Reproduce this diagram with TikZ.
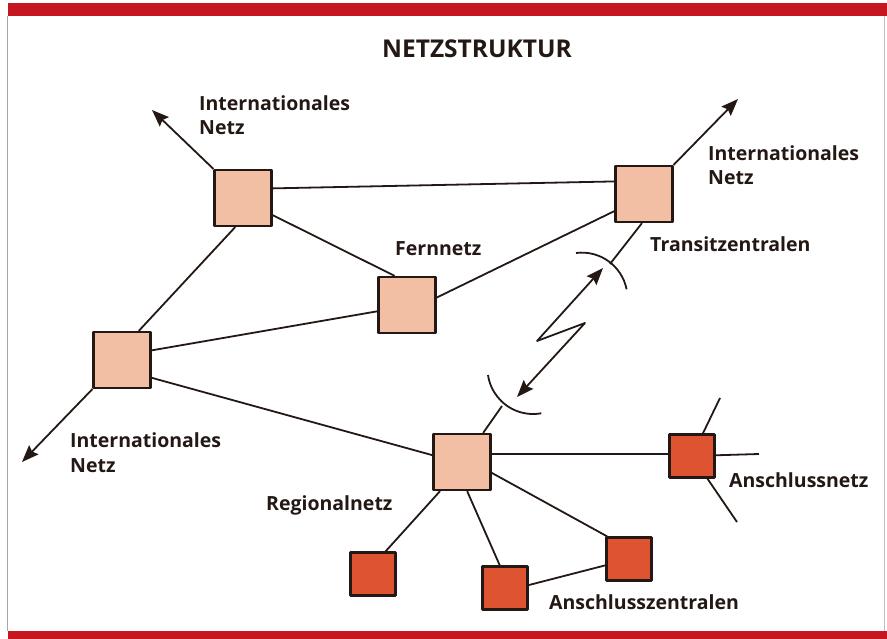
\documentclass[tikz,border=0pt]{standalone}
\usepackage{fontspec}
\setmainfont{Open Sans}
\usetikzlibrary{arrows.meta}
\definecolor{barred}{RGB}{198,22,32}
\definecolor{boxlight}{RGB}{242,190,164}
\definecolor{boxdark}{RGB}{222,84,48}
\definecolor{edgeline}{RGB}{35,24,20}
\newcommand{\lblfont}{\fontsize{19.5}{24.5}\selectfont\bfseries}

\begin{document}
\begin{tikzpicture}[x=1pt, y=-1pt, line join=round,
    >={Stealth[length=17pt, width=13pt, inset=2.5pt]},
    light/.style={shape=rectangle, draw=edgeline, line width=2.2pt, fill=boxlight, minimum width=57pt, minimum height=56pt},
    dark/.style={shape=rectangle, draw=edgeline, line width=2.2pt, fill=boxdark, minimum width=45pt, minimum height=43pt},
    lbl/.style={inner sep=0pt, anchor=base west, align=left, font=\lblfont, text=edgeline},
    link/.style={draw=edgeline, line width=1.8pt}]
    \useasboundingbox (0,0) rectangle (887,639);
    \fill[barred] (8,3) rectangle (887,16);
    \fill[barred] (8,631) rectangle (887,639);
    \draw[black!35, line width=0.6pt] (7,16) -- (7,631);
    \draw[black!25, line width=0.6pt] (884,16) -- (884,631);

    \node (title) at (477,58) [inner sep=0pt, anchor=base, font=\fontsize{24.5}{28}\selectfont\bfseries, text=edgeline] {NETZSTRUKTUR};

    \node (na) at (243,198) [light] {};
    \node (nb) at (644,194) [light] {};
    \node (nc) at (407,305) [light] {};
    \node (nd) at (122,360) [light] {};
    \node (ne) at (462,462) [light] {};
    \node (nf) at (692,456) [dark] {};
    \node (ng) at (629,559) [dark] {};
    \node (nh) at (505,588) [dark] {};
    \node (ni) at (373,574) [dark] {};

    \coordinate (fa) at (720,398);
    \coordinate (fb) at (759,454);
    \coordinate (fc) at (737,522);
    \coordinate (tup) at (610,264);
    \coordinate (tlo) at (502,406);
    \coordinate (ia) at (152,110);
    \coordinate (ib) at (738,99);
    \coordinate (id) at (22,462);

    \draw[link] (na.18) -- (nb.157);
    \draw[link] (na.-30) -- (nc.113);
    \draw[link] (nb.210) -- (nc.14);
    \draw[link] (na.-105) -- (nd.60);
    \draw[link] (nc.192) -- (nd.18);
    \draw[link] (nd.-31) -- (ne.167);
    \draw[link] (ne.15) -- (nf.175);
    \draw[link] (ne.233) -- (ni.61);
    \draw[link] (ne.280) -- (nh.103);
    \draw[link] (ne.-20) -- (ng.134);
    \draw[link] (nh.7) -- (ng.195);
    \draw[link] (nf) -- (fa);
    \draw[link] (nf) -- (fb);
    \draw[link] (nf) -- (fc);
    \draw[link] (nb.266) -- (tup);
    \draw[link] (ne.54) -- (tlo);

    \draw[link, ->] (na.north west) -- (ia);
    \draw[link, ->] (nb.north east) -- (ib);
    \draw[link, ->] (nd.south west) -- (id);

    \draw[link] (576,253) arc[start angle=-97.4, end angle=-11.3, radius=45.6];
    \draw[link] (488,375) arc[start angle=171.7, end angle=79.6, radius=45.6];
    \draw[link, <->] (603,268) -- (537,341) -- (585,323) -- (517,397);

    \node (lia) at (199,135) [lbl] {Internationales\\Netz};
    \node (lib) at (708,185) [lbl] {Internationales\\Netz};
    \node (lid) at (70,472) [lbl] {Internationales\\Netz};
    \node (lfern) at (395,256) [lbl] {Fernnetz};
    \node (ltrans) at (650,252) [lbl] {Transitzentralen};
    \node (lreg) at (266,510) [lbl] {Regionalnetz};
    \node (lanet) at (729,487) [lbl] {Anschlussnetz};
    \node (lazen) at (549,609) [lbl] {Anschlusszentralen};
\end{tikzpicture}
\end{document}
